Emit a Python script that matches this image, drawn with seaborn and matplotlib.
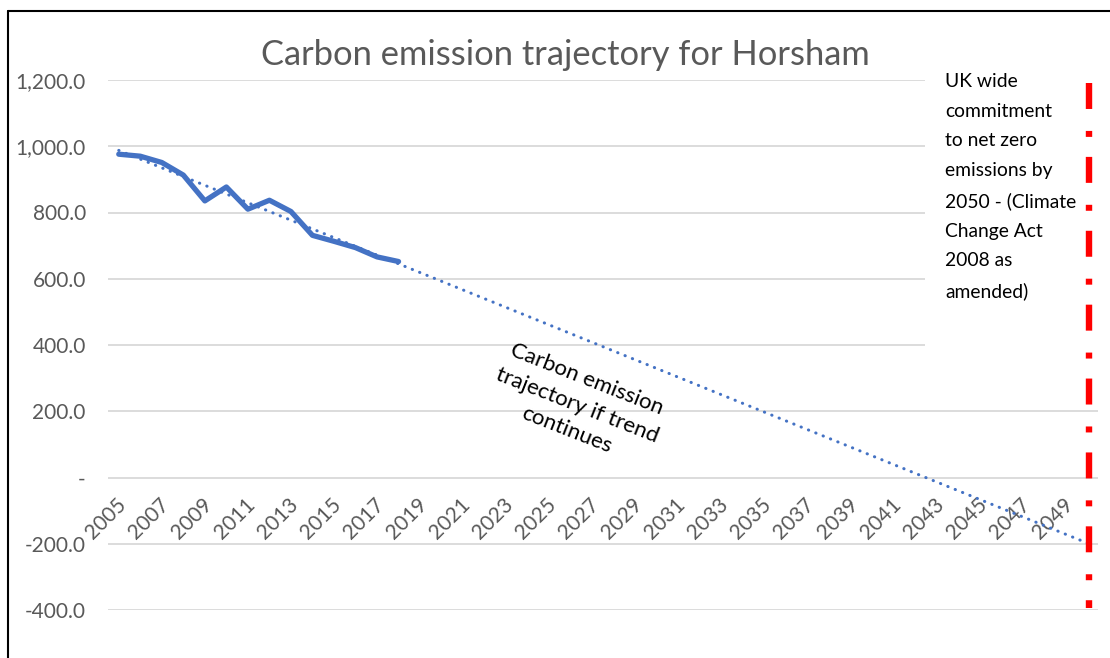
import matplotlib.pyplot as plt
import matplotlib.ticker as mticker
import matplotlib.transforms as mtransforms
from matplotlib.lines import Line2D
from matplotlib.patches import Rectangle
import numpy as np
import pandas as pd
import seaborn as sns

# emissions (kt CO2), 2005-2018
years = list(range(2005, 2019))
emissions = [976, 970, 951, 913, 835, 877, 810, 837, 803, 731, 713, 694, 666, 652]
all_years = list(range(2005, 2051))
y_ticks = [-400, -200, 0, 200, 400, 600, 800, 1000, 1200]
target_year = 2050

title = 'Carbon emission trajectory for Horsham'
trend_note = 'Carbon emission\ntrajectory if trend\ncontinues'
target_note = ('UK wide\ncommitment\nto net zero\nemissions by\n2050 - (Climate\n'
               'Change Act\n2008 as\namended)')

sns.set_style('white')
plt.rcParams['font.family'] = ['Lato', 'DejaVu Sans']
plt.rcParams['lines.scale_dashes'] = False

blue = '#4472C4'
grey = '#595959'

df = pd.DataFrame({'pos': [all_years.index(y) for y in years], 'emissions': emissions})

# linear trendline (like Excel's) extended to 2050
fit = np.polyfit(years, emissions, 1)
trend = pd.DataFrame({'pos': range(len(all_years)), 'value': np.polyval(fit, all_years)})

fig = plt.figure(figsize=(11.1, 6.58), dpi=100)
ax = fig.add_axes([108 / 1110, 48 / 658, 990 / 1110, 530 / 658])

sns.lineplot(data=trend, x='pos', y='value', ax=ax, color=blue, lw=2.2,
             linestyle=(0, (0.2, 5.5)), dash_capstyle='round', zorder=3)
sns.lineplot(data=df, x='pos', y='emissions', ax=ax, color=blue, lw=3.8,
             solid_joinstyle='round', solid_capstyle='round', zorder=4)

# category axis crosses at zero
for s in ax.spines.values():
    s.set_visible(False)
ax.spines['bottom'].set_position(('data', 0))

ax.set_xlim(-0.5, len(all_years) - 0.5)
ax.set_ylim(-400, 1200)
ax.set_yticks(y_ticks)
ax.yaxis.set_major_formatter(mticker.FuncFormatter(
    lambda v, p: '-' if v == 0 else f'{v:,.1f}'))
ax.set_xticks(range(0, len(all_years), 2))
ax.set_xticklabels([str(y) for y in all_years[::2]], rotation=45, ha='right',
                   va='top', rotation_mode='anchor')
ax.tick_params(axis='both', length=0, labelsize=15, labelcolor=grey)
ax.tick_params(axis='y', pad=16)
ax.tick_params(axis='x', pad=12)
shift = mtransforms.ScaledTranslation(-3 / 100, 0, fig.dpi_scale_trans)
for lab in ax.get_xticklabels():
    lab.set_transform(lab.get_transform() + shift)
ax.grid(axis='y', color='#D9D9D9', lw=1.3, zorder=0)
ax.set_axisbelow(True)
ax.set_xlabel('')
ax.set_ylabel('')

# white text box on the right covering the gridlines
px = fig.transFigure.inverted()
box_x0, box_y0 = px.transform((925, 658 - 360))
box_x1, box_y1 = px.transform((1108, 658 - 62))
ax.add_patch(Rectangle((box_x0, box_y0), box_x1 - box_x0, box_y1 - box_y0,
                       transform=fig.transFigure, facecolor='white',
                       edgecolor='none', zorder=2, clip_on=False))
fig.text(945 / 1110, 1 - 73 / 658, target_note, ha='left', va='top',
         fontsize=13.9, color='black', linespacing=1.9, zorder=5)

# net zero marker, drawn top to bottom (dash lengths in points)
ax.axvline(all_years.index(target_year) + 0.1, ymin=0.994, ymax=0.004, color='red',
           lw=4.6, linestyle=(0, (18.7, 15.8, 4.3, 14.4)), dash_capstyle='butt',
           clip_on=False, zorder=6)

fig.text(577 / 1110, 1 - 405 / 658, trend_note, ha='center', va='center',
         rotation=-21.5, rotation_mode='anchor', multialignment='center',
         fontsize=16, color='black', linespacing=1.45)

fig.text(565 / 1110, 1 - 55 / 658, title, ha='center', va='center',
         fontsize=24.8, color=grey)

# chart frame (left and top edges visible)
fig.add_artist(Line2D([8 / 1110, 8 / 1110], [0, 1 - 11 / 658], color='black', lw=1.5,
                      transform=fig.transFigure))
fig.add_artist(Line2D([8 / 1110, 1], [1 - 11 / 658, 1 - 11 / 658], color='black', lw=1.5,
                      transform=fig.transFigure))

fig.savefig('out.png', dpi=100)
